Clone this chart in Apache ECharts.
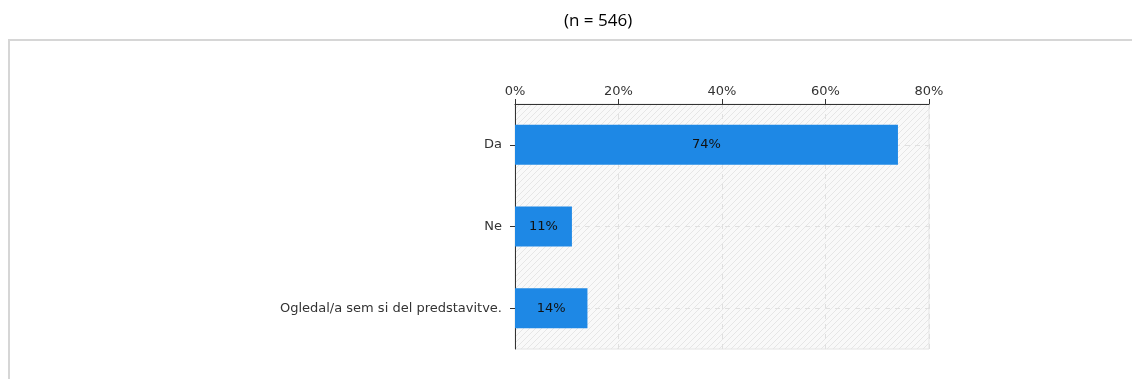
<!DOCTYPE html>
<html>
<head>
<meta charset="utf-8">
<script src="https://cdn.jsdelivr.net/npm/echarts@6/dist/echarts.min.js"></script>
<style>
  html, body { margin: 0; padding: 0; background: #ffffff; }
  #chart { width: 1132px; height: 379px; }
</style>
</head>
<body>
<div id="chart"></div>
<script>
// Survey answers and their shares (percent)
const categories = ['Da', 'Ne', 'Ogledal/a sem si del predstavitve.'];
const shares = [74, 11, 14];
const axisTicks = [0, 20, 40, 60, 80];
const subtitle = '(n = 546)';

// Light diagonal hatching for the plot background
function hatchPattern() {
  const size = 6;
  const c = document.createElement('canvas');
  c.width = size; c.height = size;
  const ctx = c.getContext('2d');
  ctx.fillStyle = '#f9f9f9';
  ctx.fillRect(0, 0, size, size);
  ctx.strokeStyle = '#e6e6e6';
  ctx.lineWidth = 1;
  ctx.beginPath();
  ctx.moveTo(0, size); ctx.lineTo(size, 0);
  ctx.moveTo(-size / 2, size / 2); ctx.lineTo(size / 2, -size / 2);
  ctx.moveTo(size / 2, size * 1.5); ctx.lineTo(size * 1.5, size / 2);
  ctx.stroke();
  return c;
}

const chart = echarts.init(document.getElementById('chart'), null, { renderer: 'canvas' });
const font = '"DejaVu Sans", Verdana, sans-serif';

chart.setOption({
  animation: false,
  backgroundColor: '#ffffff',
  title: {
    text: subtitle,
    left: 559,
    top: 8,
    textStyle: { fontFamily: '"Open Sans", Calibri, sans-serif', fontSize: 17, fontWeight: 'normal', color: '#000000' }
  },
  graphic: [
    { type: 'line', shape: { x1: 8, y1: 40, x2: 1132, y2: 40 }, style: { stroke: '#d6d6d6', lineWidth: 2 } },
    { type: 'line', shape: { x1: 9, y1: 40, x2: 9, y2: 379 }, style: { stroke: '#d6d6d6', lineWidth: 2 } }
  ],
  grid: {
    left: 515, top: 104, width: 414, height: 245,
    show: true,
    backgroundColor: { image: hatchPattern(), repeat: 'repeat' },
    borderColor: '#e4e4e4',
    borderWidth: 1
  },
  xAxis: {
    type: 'value',
    position: 'top',
    min: axisTicks[0],
    max: axisTicks[axisTicks.length - 1],
    interval: axisTicks[1] - axisTicks[0],
    axisLine: { show: true, lineStyle: { color: '#333333', width: 1 } },
    axisTick: { show: true, length: 5, lineStyle: { color: '#333333' } },
    axisLabel: { formatter: '{value}%', fontFamily: font, fontSize: 13, color: '#333333', margin: 6 },
    splitLine: { show: true, lineStyle: { color: '#e0e0e0', type: [5, 5] } }
  },
  yAxis: {
    type: 'category',
    inverse: true,
    data: categories,
    axisLine: { show: true, lineStyle: { color: '#333333', width: 1 } },
    axisTick: { show: true, length: 5, alignWithLabel: true, lineStyle: { color: '#333333' } },
    axisLabel: { fontFamily: font, fontSize: 13, color: '#333333', margin: 13 },
    splitLine: { show: false }
  },
  series: [{
    type: 'bar',
    data: shares,
    barWidth: 40,
    itemStyle: { color: '#1e88e5' },
    label: {
      show: true,
      position: 'inside',
      formatter: '{c}%',
      fontFamily: font,
      fontSize: 13,
      color: '#111111'
    },
    markLine: {
      silent: true,
      symbol: 'none',
      label: { show: false },
      z: 1,
      lineStyle: { color: '#e0e0e0', type: [5, 5], width: 1 },
      data: categories.map(c => ({ yAxis: c }))
    }
  }]
});
</script>
</body>
</html>
